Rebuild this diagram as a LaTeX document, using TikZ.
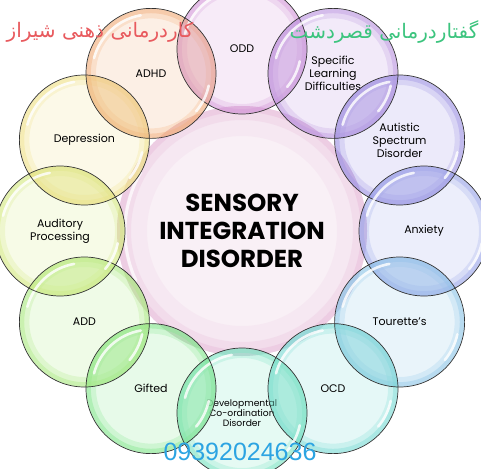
\documentclass[tikz,border=0pt]{standalone}
\usepackage{fontspec}
\setmainfont{Poppins}
\newfontfamily\arabicfont[Script=Arabic]{DejaVu Sans}
\newfontfamily\numfont{Liberation Sans}
\TeXXeTstate=1
\definecolor{cODD}{HTML}{D69CDA}
\definecolor{cSLD}{HTML}{BE98E0}
\definecolor{cAUT}{HTML}{A096E4}
\definecolor{cANX}{HTML}{9EA8EA}
\definecolor{cTOU}{HTML}{92C8E8}
\definecolor{cOCD}{HTML}{7EDCD6}
\definecolor{cDEV}{HTML}{7EE4C4}
\definecolor{cGIF}{HTML}{86E690}
\definecolor{cADD}{HTML}{AEEA86}
\definecolor{cAUD}{HTML}{D6EA86}
\definecolor{cDEP}{HTML}{F0E28C}
\definecolor{cADH}{HTML}{F2B07E}
\definecolor{cpinkA}{HTML}{F9F0F6}
\definecolor{cpinkC}{HTML}{E6B2D6}
\definecolor{redfa}{HTML}{E85A5E}
\definecolor{greenfa}{HTML}{3CC47E}
\definecolor{bluenum}{HTML}{2CA4E2}
\begin{document}
\begin{tikzpicture}[x=1pt,y=1pt,
  bub/.style={circle, minimum size=130pt, inner sep=0pt,
    fill=#1, fill opacity=0.2, text opacity=1,
    align=center, font=\fontsize{11}{13}\selectfont},
  rimA/.style={#1, line width=10pt, draw opacity=0.26},
  rimB/.style={#1, line width=4.5pt, draw opacity=0.42},
  smalltxt/.style={font=\fontsize{9.2}{9.8}\selectfont},
  plain/.style={},
  lens/.style={fill=#1, fill opacity=0.26},
  hl/.style={white, line width=2.6pt, line cap=round, draw opacity=0.8},
  rimline/.style={black!80, line width=0.7pt},
  core/.style={circle, minimum size=250pt, inner sep=0pt, fill=cpinkA}]
\useasboundingbox (0,0) rectangle (481,-468);
\coordinate (C) at (242,-231);
\node[core] (core) at (C) {};
\draw[cpinkC, line width=30pt, draw opacity=0.12] (core.center) circle (110);
\draw[cpinkC, line width=14pt, draw opacity=0.22] (core.center) circle (118);
\draw[cpinkC, line width=6pt, draw opacity=0.35] (core.center) circle (122);
\draw[white, line width=3pt, draw opacity=0.7, line cap=round] ([shift={(150:117)}]core.center) arc[start angle=150, end angle=205, radius=117];
\foreach \ang/\nm/\col/\sty/\txt in {
  90/odd/cODD/plain/{ODD},
  60/sld/cSLD/plain/{Specific\\Learning\\Difficulties},
  30/aut/cAUT/plain/{Autistic\\Spectrum\\Disorder},
  0/anx/cANX/plain/{Anxiety},
  -30/tou/cTOU/plain/{Tourette's},
  -60/ocd/cOCD/plain/{OCD},
  -90/dev/cDEV/smalltxt/{Developmental\\Co-ordination\\Disorder},
  -120/gif/cGIF/plain/{Gifted},
  -150/add/cADD/plain/{ADD},
  180/aud/cAUD/plain/{Auditory\\Processing},
  150/dep/cDEP/plain/{Depression},
  120/adh/cADH/plain/{ADHD}}
{
  \node[bub=\col, \sty] (\nm) at ([shift={(\ang:182)}]C) {\txt};
  \draw[rimA=\col] (\nm.center) circle (60);
  \draw[rimB=\col] (\nm.center) circle (62.4);
  \begin{scope}
    \clip (core.center) circle (125);
    \fill[lens=\col] (\nm.center) circle (65);
  \end{scope}
}
\foreach \a/\ca/\b/\cb in {odd/cODD/sld/cSLD, sld/cSLD/aut/cAUT, aut/cAUT/anx/cANX,
  anx/cANX/tou/cTOU, tou/cTOU/ocd/cOCD, ocd/cOCD/dev/cDEV, dev/cDEV/gif/cGIF,
  gif/cGIF/add/cADD, add/cADD/aud/cAUD, aud/cAUD/dep/cDEP, dep/cDEP/adh/cADH, adh/cADH/odd/cODD}
{
  \begin{scope}
    \clip (\a.center) circle (65);
    \fill[lens=\ca] (\b.center) circle (65);
    \fill[lens=\cb] (\b.center) circle (65);
  \end{scope}
}
\foreach \nm in {odd,sld,aut,anx,tou,ocd,dev,gif,add,aud,dep,adh}
{
  \draw[hl] ([shift={(100:59)}]\nm.center) arc[start angle=100, end angle=165, radius=59];
  \draw[hl] ([shift={(-12:59)}]\nm.center) arc[start angle=-12, end angle=-40, radius=59];
  \draw[rimline] (\nm.center) circle (65);
}
\node[font=\bfseries\fontsize{24.5}{28}\selectfont, align=center] (title) at (C) {SENSORY\\INTEGRATION\\DISORDER};
\node[text=redfa, font=\arabicfont\fontsize{20}{22}\selectfont] (fa1) at (100,-32) {\beginR کاردرمانی ذهنی شیراز\endR};
\node[text=greenfa, font=\arabicfont\fontsize{20}{22}\selectfont] (fa2) at (384,-32) {\beginR گفتاردرمانی قصردشت\endR};
\node[text=bluenum, font=\numfont\fontsize{25}{28}\selectfont] (num) at (240,-452) {09392024636};
\end{tikzpicture}
\end{document}
